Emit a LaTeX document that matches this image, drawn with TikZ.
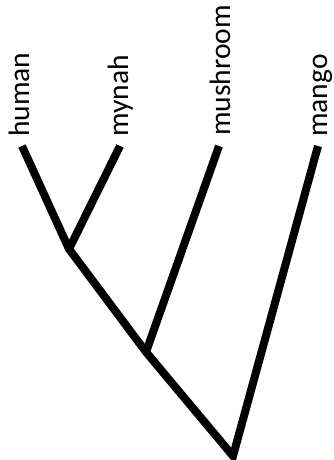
\documentclass[tikz,border=0pt]{standalone}
\usepackage{fontspec}
\setmainfont{Carlito}
\begin{document}
\begin{tikzpicture}[x=1pt,y=-1pt,
  branch/.style={line width=8pt,black,line join=miter,line cap=butt},
  taxon/.style={rotate=90,anchor=base west,inner sep=0pt,font=\fontsize{29.5}{30}\selectfont}]
\useasboundingbox (0,0) rectangle (333,460);
% tips
\coordinate (thuman) at (22,146);
\coordinate (tmynah) at (120,146);
\coordinate (tmush) at (219,146);
\coordinate (tmango) at (318,146);
% internal nodes
\coordinate (n1) at (69,249);
\coordinate (n2) at (146,352);
\coordinate (root) at (233,456);
% branches
\draw[branch] (thuman) -- (n1) -- (n2) -- (root) -- (tmango);
\draw[branch] (tmynah) -- (n1);
\draw[branch] (tmush) -- (n2);
% labels
\node[taxon] (lhuman) at (29,137) {human};
\node[taxon] (lmynah) at (128,137) {mynah};
\node[taxon] (lmush) at (230,136) {mushroom};
\node[taxon] (lmango) at (327,137) {mango};
\end{tikzpicture}
\end{document}
